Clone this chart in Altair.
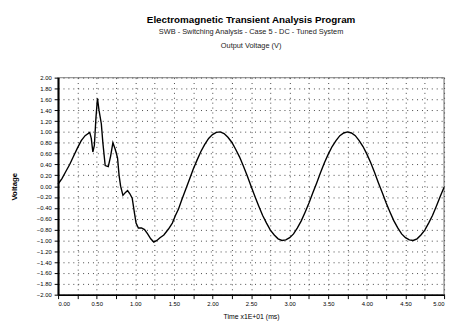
import altair as alt
import pandas as pd

# Time (x1E+01 ms) and output voltage (V)
time = [0.00, 0.05, 0.10, 0.15, 0.20, 0.25, 0.30, 0.35, 0.41, 0.43, 0.45, 0.47, 0.49, 0.51,
        0.53, 0.56, 0.58, 0.61, 0.65, 0.68, 0.71, 0.74, 0.77, 0.79, 0.81, 0.84, 0.87, 0.90,
        0.93, 0.96, 0.99, 1.01, 1.04, 1.08, 1.12, 1.16, 1.20, 1.24, 1.28, 1.32, 1.37, 1.43,
        1.48, 1.52, 1.56, 1.60, 1.65, 1.70, 1.75, 1.80, 1.85, 1.90, 1.95, 2.00, 2.05, 2.10,
        2.15, 2.20, 2.25, 2.30, 2.35, 2.40, 2.45, 2.50, 2.55, 2.60, 2.65, 2.70, 2.75, 2.80,
        2.85, 2.90, 2.95, 3.00, 3.05, 3.10, 3.15, 3.20, 3.25, 3.30, 3.35, 3.40, 3.45, 3.50,
        3.55, 3.60, 3.65, 3.70, 3.75, 3.80, 3.85, 3.90, 3.95, 4.00, 4.05, 4.10, 4.15, 4.20,
        4.25, 4.30, 4.35, 4.40, 4.45, 4.50, 4.55, 4.60, 4.65, 4.70, 4.75, 4.80, 4.85, 4.90,
        4.95, 5.00]
voltage = [0.04, 0.14, 0.27, 0.40, 0.55, 0.70, 0.84, 0.93, 0.99, 0.88, 0.63, 0.75, 1.25, 1.62,
           1.40, 1.15, 0.80, 0.38, 0.36, 0.55, 0.80, 0.68, 0.52, 0.20, 0.00, -0.17, -0.12, -0.08,
           -0.14, -0.22, -0.50, -0.68, -0.77, -0.77, -0.80, -0.88, -0.97, -1.03, -1.00, -0.95,
           -0.90, -0.79, -0.68, -0.54, -0.42, -0.26, -0.07, 0.12, 0.31, 0.48, 0.64, 0.77, 0.88,
           0.95, 0.99, 1.00, 0.97, 0.90, 0.81, 0.68, 0.54, 0.37, 0.19, 0.00, -0.19, -0.37, -0.54,
           -0.68, -0.81, -0.90, -0.97, -1.00, -0.99, -0.95, -0.88, -0.77, -0.64, -0.48, -0.31,
           -0.12, 0.06, 0.25, 0.43, 0.59, 0.73, 0.84, 0.93, 0.98, 1.00, 0.98, 0.93, 0.84, 0.73,
           0.59, 0.43, 0.25, 0.06, -0.12, -0.31, -0.48, -0.64, -0.77, -0.88, -0.95, -0.99, -1.00,
           -0.97, -0.90, -0.81, -0.68, -0.54, -0.37, -0.19, -0.02]

x_ticks = [0.0, 0.25, 0.5, 0.75, 1.0, 1.25, 1.5, 1.75, 2.0, 2.25, 2.5, 2.75, 3.0, 3.25,
           3.5, 3.75, 4.0, 4.25, 4.5, 4.75, 5.0]
y_ticks = [-2.0, -1.8, -1.6, -1.4, -1.2, -1.0, -0.8, -0.6, -0.4, -0.2, 0.0,
           0.2, 0.4, 0.6, 0.8, 1.0, 1.2, 1.4, 1.6, 1.8, 2.0]

df = pd.DataFrame({"t": time, "v": voltage})

FONT = "Liberation Sans"

chart = alt.Chart(df).mark_line(color="black", strokeWidth=1.4).encode(
    x=alt.X("t:Q",
            scale=alt.Scale(domain=[0, 5], nice=False),
            axis=alt.Axis(values=x_ticks,
                          labelExpr="datum.value % 0.5 == 0 ? format(datum.value, '.2f') : ''",
                          title="Time  x1E+01 (ms)",
                          titleFontSize=7, titleFontWeight="normal",
                          titleY=22, titleBaseline="middle",
                          labelFontSize=6, tickSize=4, labelPadding=2,
                          domainColor="black", domainWidth=1.5,
                          tickColor="black",
                          grid=True, gridColor="#444", gridDash=[1, 4], gridWidth=1)),
    y=alt.Y("v:Q",
            scale=alt.Scale(domain=[-2, 2], nice=False),
            axis=alt.Axis(values=y_ticks, format=".2f",
                          title="Voltage",
                          titleFontSize=8, titleFontWeight="bold",
                          titleX=-44, titleY=110.5, titleBaseline="middle",
                          labelFontSize=6, tickSize=4, labelPadding=3,
                          domainColor="black", domainWidth=2,
                          tickColor="black",
                          grid=True, gridColor="#444", gridDash=[1, 4], gridWidth=1)),
).properties(
    width=393,
    height=221,
    autosize=alt.AutoSizeParams(type="none"),
    padding={"left": 51, "top": 68, "right": 4, "bottom": 30},
    title=alt.TitleParams(
        text="Electromagnetic Transient Analysis Program",
        subtitle=["SWB - Switching Analysis - Case 5 - DC - Tuned System",
                  "Output Voltage (V)"],
        anchor="middle", fontSize=10, fontWeight="bold", font=FONT,
        subtitleFont=FONT, subtitleFontSize=7.5, subtitleColor="#222",
        subtitleLineHeight=14, subtitlePadding=3, offset=26, color="black",
    ),
).configure_axis(
    labelFont=FONT, titleFont=FONT, labelColor="black", titleColor="black",
).configure_view(
    stroke="#999", strokeWidth=1.5,
)

chart.save("out.html", embed_options={"renderer": "svg", "actions": False})
